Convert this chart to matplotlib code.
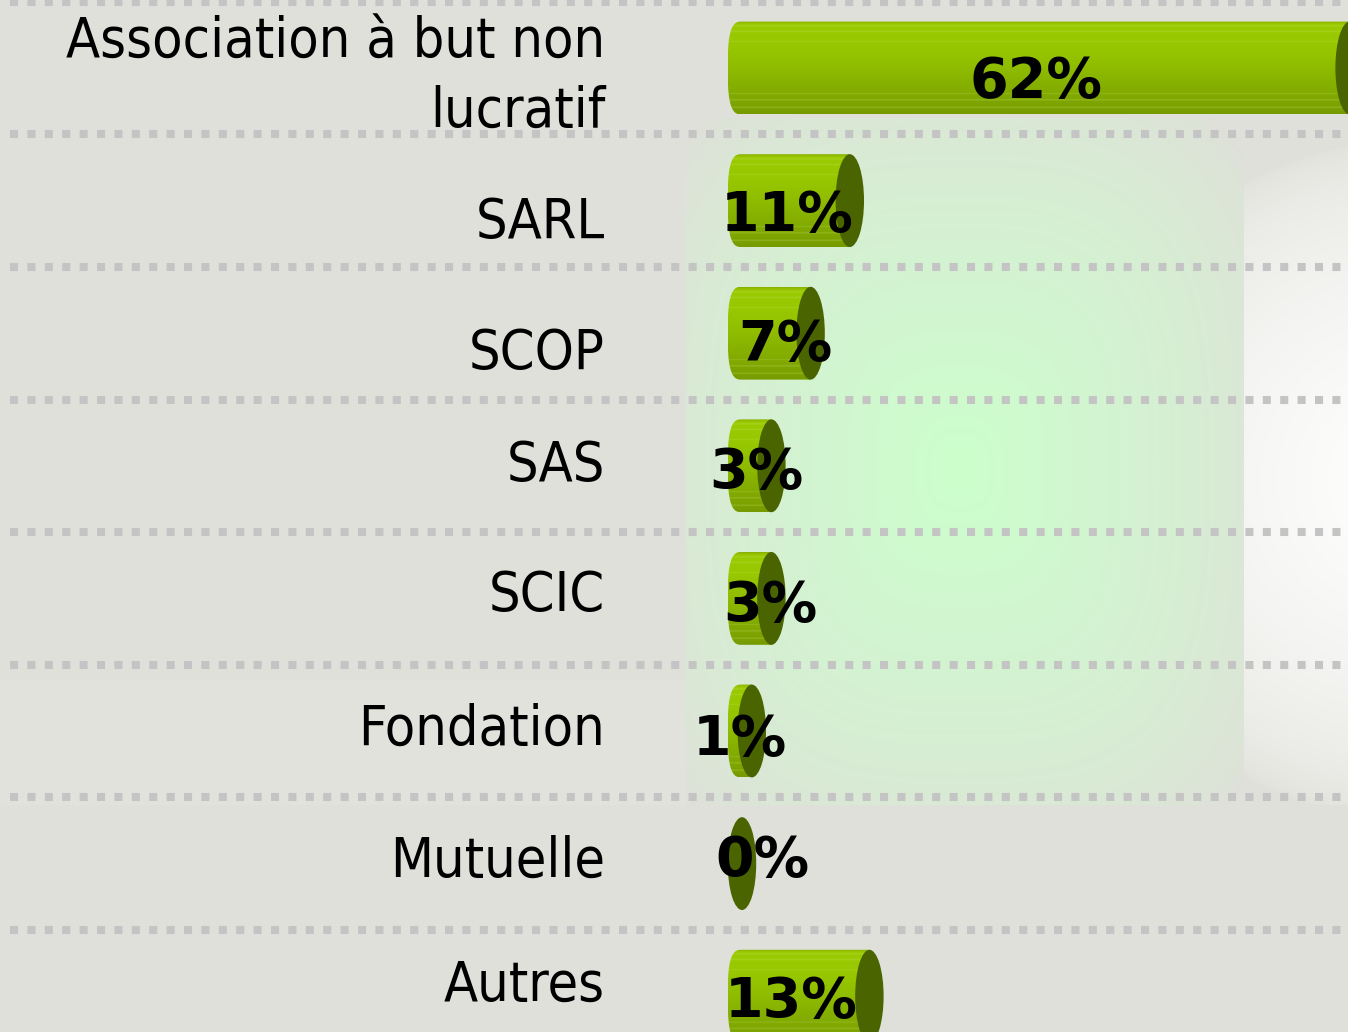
import numpy as np
import matplotlib
matplotlib.use("Agg")
import matplotlib.pyplot as plt
from matplotlib.patches import Ellipse, PathPatch
from matplotlib.path import Path
from matplotlib.colors import to_rgb

# ---------------- data ----------------
categories = ["Association à but non\nlucratif", "SARL", "SCOP", "SAS", "SCIC",
              "Fondation", "Mutuelle", "Autres"]
values = [62, 11, 7, 3, 3, 1, 0, 13]
value_labels = ["62%", "11%", "7%", "3%", "3%", "1%", "0%", "13%"]

# ---------------- layout / style ----------------
W, H, DPI = 1348, 1032, 100
X0, KX = 742.0, 9.8      # pixel x of value 0, pixels per percent
Y0, KY = 68.0, 132.6     # pixel y of first row, pixels per row
label_baseline_px = [59, 37, 36, 15, 13, 14, 13, 5]   # category label baseline offsets (last line)
pct_dx_px = [-3, -2, 16, 7, 21, 0, 28, -7]           # value label nudges
pct_dy_px = [29, 30, 27, 22, 23, 24, 12, 21]          # value label baseline offsets
HALF_H = 0.35            # bar half height (rows)
CAP_HW = 1.45            # cap half width (percent units)

fig = plt.figure(figsize=(W / DPI, H / DPI), dpi=DPI)
ax = fig.add_axes([0, 0, 1, 1])
ax.set_axis_off()
xl = (-X0 / KX, (W - X0) / KX)
yl = ((H - Y0) / KY, -Y0 / KY)


def dx(p):
    return (p - X0) / KX


def dy(p):
    return p / KY


# ---------------- background ----------------
yy, xx = np.mgrid[0:H, 0:W] + 0.5
base = np.array([223, 224, 217]) / 255.0
bg = np.ones((H, W, 3)) * base
# faintly lighter left/bottom zone
bg[(xx < 686) & (yy > 680) & (yy < 805)] = np.array([225, 226, 220]) / 255.0
# green glow
green = np.array([204, 255, 204]) / 255.0
d = (np.abs((xx - 960) / 340.0) ** 3 + np.abs((yy - 470) / 420.0) ** 3) ** (1 / 3)
t = np.clip(1 - d, 0, 1) ** 0.75
t[(xx < 686) | (xx > 1244) | (yy < 118) | (yy > 805)] = 0
bg = bg + (green - base) * t[..., None]
# white glow on the right
white = np.array([1.0, 1.0, 1.0])
d2 = np.sqrt(((xx - 1410) / 340.0) ** 2 + ((yy - 480) / 340.0) ** 2)
t2 = np.clip(1 - d2, 0, 1) ** 0.5
t2[(xx < 1244) | (yy < 118) | (yy > 805)] = 0
bg = bg + (white - bg) * t2[..., None]
ax.imshow(bg, extent=[xl[0], xl[1], yl[0], yl[1]], origin="upper",
          aspect="auto", zorder=0, interpolation="bilinear")

# ---------------- separators ----------------
for k in range(len(categories)):
    ax.plot([dx(10), xl[1]], [k - 0.5, k - 0.5], color="#C4C4C4", lw=5.8,
            dashes=(1.0, 1.16), dash_capstyle="butt", zorder=1)

# ---------------- bar gradient ----------------
stops = [(0.00, "#88AE00"), (0.03, "#9ACB00"), (0.25, "#98C800"), (0.45, "#91BF00"),
         (0.60, "#8AB500"), (0.75, "#83AC00"), (0.90, "#7DA300"), (1.00, "#769A00")]
n = 200
f = np.linspace(0, 1, n)
cols = np.array([to_rgb(c) for _, c in stops])
pos = np.array([p for p, _ in stops])
grad = np.stack([np.interp(f, pos, cols[:, j]) for j in range(3)], axis=1)
for hl in [0.05, 0.11, 0.22, 0.78, 0.85, 0.93]:
    idx = (np.abs(f - hl) < 0.006)
    grad[idx] = grad[idx] * 0.75 + np.array([0.78, 0.88, 0.45]) * 0.25
grad_img = grad[:, None, :]

# ---------------- bars ----------------
for i, v in enumerate(values):
    if v > 0:
        th = np.linspace(np.pi / 2, 3 * np.pi / 2, 60)
        c = np.cos(th)
        s = np.sin(th)
        ex = 2.0 / 3.0   # superellipse: flatter left end
        verts = [(-CAP_HW * np.abs(a) ** ex, i + HALF_H * np.sign(b) * np.abs(b) ** ex)
                 for a, b in zip(c, s)]
        verts += [(v, i - HALF_H), (v, i + HALF_H), verts[0]]
        codes = [Path.MOVETO] + [Path.LINETO] * (len(verts) - 2) + [Path.CLOSEPOLY]
        body = PathPatch(Path(verts, codes), facecolor="none", edgecolor="none",
                         transform=ax.transData)
        ax.add_patch(body)
        im = ax.imshow(grad_img, extent=[-CAP_HW, v, i + HALF_H, i - HALF_H],
                       origin="upper", aspect="auto", zorder=3,
                       interpolation="bilinear")
        im.set_clip_path(body)
    cap = Ellipse((v, i), 2 * CAP_HW, 2 * HALF_H, facecolor="#4A6400",
                  edgecolor="none", zorder=4)
    ax.add_patch(cap)
    ax.text((v - CAP_HW) / 2 + pct_dx_px[i] / KX, i + dy(pct_dy_px[i]), value_labels[i],
            ha="center", va="baseline", fontsize=40, fontweight="bold",
            color="black", family="DejaVu Sans", zorder=6)

# ---------------- category labels ----------------
for i, lab in enumerate(categories):
    ax.text(dx(605), i + dy(label_baseline_px[i]), lab, ha="right", va="baseline",
            fontsize=40, family="DejaVu Sans", fontstretch="condensed",
            color="black", linespacing=1.36, zorder=6)

ax.set_xlim(*xl)
ax.set_ylim(*yl)
fig.savefig("out.png", dpi=DPI)
